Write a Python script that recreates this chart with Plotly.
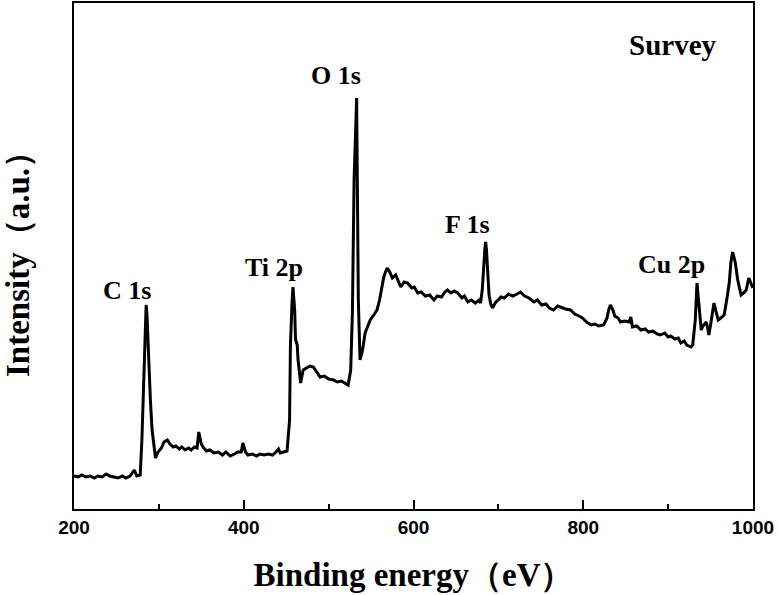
import plotly.graph_objects as go

# Binding energy (eV)
binding_energy = [
    200, 205, 209, 214, 219, 224, 228, 233, 238, 242,
    247, 252, 257, 261, 266, 271, 274, 278, 280, 283,
    285, 286, 287, 290, 292, 296, 299, 303, 306, 310,
    313, 317, 320, 324, 327, 331, 335, 338, 342, 345,
    347, 350, 352, 356, 360, 365, 370, 375, 379, 384,
    389, 393, 397, 399, 402, 405, 410, 415, 419, 424,
    429, 434, 438, 441, 443, 448, 451, 454, 455, 457,
    458, 460, 461, 462, 463, 464, 467, 470, 475, 478,
    482, 486, 490, 495, 500, 506, 510, 515, 520, 523,
    526, 528, 530, 533, 534, 535, 537, 540, 543, 547,
    549, 554, 557, 560, 562, 565, 567, 569, 572, 575,
    579, 582, 585, 589, 593, 598, 601, 605, 609, 614,
    619, 624, 628, 633, 637, 640, 644, 648, 652, 657,
    660, 664, 668, 673, 677, 679, 681, 684, 685, 686,
    689, 691, 693, 697, 700, 703, 707, 712, 717, 722,
    726, 731, 736, 742, 746, 751, 756, 760, 765, 770,
    775, 779, 785, 790, 795, 799, 804, 809, 814, 818,
    824, 828, 830, 832, 835, 837, 841, 844, 849, 854,
    856, 858, 863, 868, 873, 877, 882, 887, 891, 896,
    900, 903, 908, 912, 915, 919, 922, 927, 929, 932,
    934, 936, 939, 941, 945, 947, 948, 950, 954, 956,
    959, 962, 966, 969, 972, 974, 976, 979, 982, 986,
    989, 992, 995, 998, 1000,
]

# Intensity (a.u.)
intensity = [
    33, 32, 34, 32, 33, 31, 33, 32, 35, 33,
    32, 31, 33, 31, 33, 39, 33, 34, 69, 149,
    204, 194, 169, 109, 79, 51, 57, 61, 67, 69,
    65, 62, 63, 60, 62, 59, 61, 59, 62, 61,
    77, 65, 62, 58, 59, 56, 57, 54, 57, 53,
    55, 57, 57, 66, 57, 54, 55, 53, 55, 54,
    55, 54, 57, 60, 56, 57, 58, 89, 164, 209,
    222, 199, 169, 167, 164, 149, 126, 139, 141, 143,
    142, 137, 132, 133, 130, 129, 127, 128, 125, 124,
    139, 196, 329, 411, 309, 209, 149, 159, 176, 184,
    189, 195, 199, 209, 219, 232, 237, 241, 237, 231,
    234, 227, 222, 227, 226, 221, 222, 216, 217, 213,
    214, 209, 213, 212, 217, 219, 216, 218, 216, 211,
    213, 207, 209, 206, 209, 206, 219, 259, 267, 259,
    214, 205, 201, 207, 209, 212, 211, 215, 213, 215,
    217, 213, 211, 207, 209, 204, 205, 201, 199, 203,
    201, 200, 199, 195, 193, 191, 187, 184, 185, 183,
    184, 191, 199, 204, 199, 193, 191, 187, 188, 187,
    192, 182, 183, 179, 180, 177, 178, 175, 174, 176,
    172, 173, 170, 171, 166, 168, 164, 162, 164, 189,
    226, 204, 179, 183, 187, 179, 174, 184, 206, 199,
    189, 191, 194, 209, 226, 247, 257, 247, 229, 214,
    216, 219, 231, 225, 221,
]
assert len(binding_energy) == len(intensity)

# Peak labels
peak_labels = ["C 1s", "Ti 2p", "O 1s", "F 1s", "Cu 2p"]
peak_label_x = [262, 436, 509, 664, 904]
peak_label_y = [219, 242, 434, 285, 245]

serif = "Liberation Serif, Times New Roman, serif"
sans = "Liberation Sans, Arial, sans-serif"

fig = go.Figure()
fig.add_trace(go.Scatter(
    x=binding_energy, y=intensity, mode="lines",
    line=dict(color="black", width=3), showlegend=False,
))

for lab, lx, ly in zip(peak_labels, peak_label_x, peak_label_y):
    fig.add_annotation(x=lx, y=ly, text=lab, showarrow=False,
                       font=dict(family=serif, size=26, color="black", weight="bold"))

fig.add_annotation(x=0.882, y=0.917, xref="paper", yref="paper", text="Survey",
                   showarrow=False, xanchor="center", yanchor="middle",
                   font=dict(family=serif, size=29, color="black", weight="bold"))

fig.update_layout(
    width=779, height=595,
    margin=dict(l=74, r=26, t=3, b=86),
    plot_bgcolor="white", paper_bgcolor="white",
    xaxis=dict(
        range=[200, 1000], dtick=200, tick0=200, automargin=False,
        showgrid=False, zeroline=False,
        showline=True, linecolor="black", linewidth=2, mirror=True,
        ticks="inside", ticklen=9, tickwidth=1.5, tickcolor="black",
        minor=dict(ticks="inside", dtick=100, ticklen=5, tickwidth=1.5, tickcolor="black"),
        tickfont=dict(family=sans, size=19, color="black", weight="bold"),
        title=dict(text="Binding energy（eV）", standoff=26,
                   font=dict(family=serif, size=33, color="black", weight="bold")),
    ),
    yaxis=dict(
        range=[0, 506], automargin=False,
        showgrid=False, zeroline=False, showticklabels=False,
        showline=True, linecolor="black", linewidth=2, mirror=True,
        ticks="",
        title=dict(text="Intensity（a.u.）", standoff=52,
                   font=dict(family=serif, size=33, color="black", weight="bold")),
    ),
)

fig.write_html("out.html", config={"displayModeBar": False},
               post_script="document.body.style.margin='0';")
